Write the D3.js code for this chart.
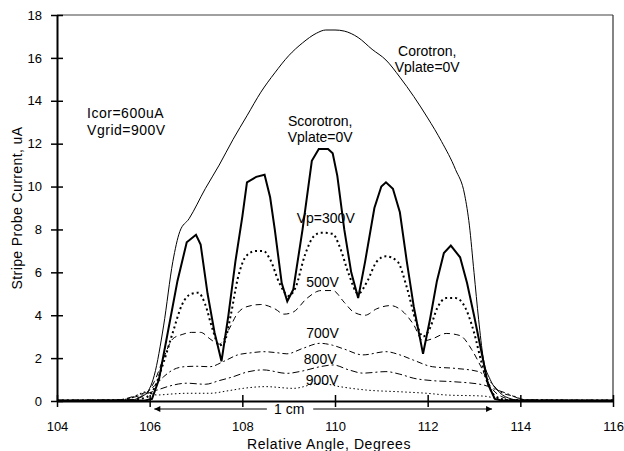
<!DOCTYPE html>
<html>
<head>
<meta charset="utf-8">
<script src="https://cdn.jsdelivr.net/npm/d3@7"></script>
<style>
  body { margin: 0; background: #fff; }
  svg text { font-family: "Liberation Sans", Arial, sans-serif; font-size: 14px; fill: #000; }
</style>
</head>
<body>
<svg id="chart"></svg>
<script>
// Probe current (uA) vs relative angle (degrees)
const corotron = [[104,0.03],[105,0.03],[105.6,0.05],[105.9,0.3],[106.1,1.2],[106.3,3.5],[106.5,6.5],[106.65,7.9],
  [106.85,8.5],[107.2,9.9],[107.5,11.0],[107.8,12.2],[108.1,13.3],[108.4,14.4],[108.7,15.3],[109,16.1],[109.3,16.7],
  [109.6,17.15],[109.8,17.3],[110,17.3],[110.2,17.25],[110.5,16.95],[110.8,16.4],[111.1,15.9],[111.4,15.1],[111.7,14.2],
  [112.0,13.2],[112.3,12.1],[112.6,10.8],[112.8,9.6],[112.9,8.2],[113.0,6.0],[113.1,3.8],[113.2,2.0],[113.35,1.0],
  [113.55,0.4],[113.8,0.1],[114,0.03],[116,0.03]];
const scorotron = [[104,0.02],[105.9,0.02],[106.05,0.1],[106.2,1.0],[106.4,3.3],[106.6,5.6],[106.8,7.4],[107.0,7.75],
  [107.1,7.3],[107.25,5.0],[107.4,3.2],[107.55,1.85],[107.7,4.0],[107.85,6.5],[108.0,8.6],[108.1,10.2],[108.3,10.45],
  [108.48,10.55],[108.6,9.5],[108.7,8.0],[108.85,5.5],[108.97,4.65],[109.1,5.2],[109.3,8.0],[109.5,11.2],[109.65,11.75],
  [109.85,11.75],[109.95,11.55],[110.05,10.5],[110.2,8.0],[110.35,6.0],[110.5,4.8],[110.65,6.5],[110.85,9.0],[111.0,10.0],
  [111.1,10.2],[111.25,9.9],[111.4,8.8],[111.55,6.5],[111.7,4.4],[111.9,2.2],[112.05,3.8],[112.2,5.6],[112.35,6.9],
  [112.5,7.25],[112.7,6.7],[112.85,5.5],[113.0,4.0],[113.15,2.4],[113.3,0.8],[113.45,0.1],[113.6,0.02],[116,0.02]];
const vp300 = [[104,0.02],[105.5,0.03],[105.9,0.15],[106.1,0.6],[106.3,1.8],[106.5,3.2],[106.7,4.5],[106.9,5.0],
  [107.05,5.05],[107.2,4.5],[107.35,3.4],[107.5,2.6],[107.6,2.7],[107.75,4.0],[107.9,5.7],[108.1,6.8],[108.3,7.0],
  [108.45,7.0],[108.6,6.6],[108.8,5.5],[109.0,4.9],[109.15,5.3],[109.35,6.8],[109.55,7.7],[109.7,7.85],[109.95,7.8],
  [110.1,7.2],[110.3,5.9],[110.5,5.0],[110.7,5.6],[110.9,6.5],[111.1,6.75],[111.35,6.5],[111.55,5.3],[111.75,3.7],
  [111.9,3.0],[112.05,3.4],[112.2,4.3],[112.4,4.8],[112.6,4.8],[112.8,4.4],[113.0,3.2],[113.15,1.9],[113.3,0.8],
  [113.45,0.25],[113.7,0.05],[116,0.02]];
const vp500 = [[104,0.02],[105.5,0.05],[105.9,0.3],[106.1,0.9],[106.3,2.0],[106.5,2.9],[106.7,3.1],[106.9,3.2],
  [107.1,3.2],[107.3,2.9],[107.5,2.65],[107.7,3.3],[107.9,4.1],[108.1,4.4],[108.4,4.5],[108.7,4.3],[108.9,4.05],
  [109.1,4.15],[109.4,4.8],[109.7,5.15],[109.95,5.15],[110.2,4.6],[110.4,4.15],[110.65,4.0],[110.9,4.3],[111.2,4.45],
  [111.45,4.2],[111.7,3.55],[111.9,2.8],[112.1,2.9],[112.4,3.15],[112.7,3.05],[112.95,2.4],[113.15,1.6],[113.35,0.7],
  [113.6,0.2],[113.9,0.05],[116,0.02]];
const vp700 = [[104,0.03],[105.3,0.05],[105.7,0.25],[105.95,0.45],[106.1,0.7],[106.3,1.13],[106.5,1.45],[106.75,1.6],
  [107.0,1.62],[107.3,1.6],[107.6,1.85],[107.9,2.15],[108.2,2.25],[108.45,2.3],[108.75,2.25],[108.96,2.2],[109.3,2.45],
  [109.68,2.69],[109.95,2.6],[110.2,2.42],[110.6,2.15],[111.1,2.3],[111.4,2.15],[111.7,1.9],[112.1,1.6],[112.6,1.52],
  [113.1,1.37],[113.35,0.9],[113.56,0.43],[113.9,0.2],[114.1,0.05],[116,0.03]];
const vp800 = [[104,0.03],[105.3,0.05],[105.7,0.2],[105.95,0.35],[106.15,0.5],[106.4,0.68],[106.8,0.83],[107.2,0.78],
  [107.5,0.95],[107.8,1.13],[108.1,1.35],[108.45,1.45],[108.96,1.29],[109.3,1.4],[109.68,1.6],[109.96,1.68],
  [110.3,1.45],[110.6,1.3],[111.1,1.37],[111.4,1.25],[111.7,1.06],[112.1,0.95],[112.55,0.9],[113.2,0.75],
  [113.45,0.55],[113.7,0.36],[114,0.1],[114.2,0.04],[116,0.03]];
const vp900 = [[104,0.02],[105.3,0.03],[105.6,0.15],[105.93,0.43],[106.15,0.28],[106.5,0.33],[106.8,0.36],
  [107.3,0.36],[107.7,0.48],[108.02,0.59],[108.5,0.67],[109.1,0.59],[109.68,0.83],[110.1,0.67],[110.68,0.51],
  [111.4,0.43],[111.98,0.36],[112.4,0.28],[113.2,0.23],[113.5,0.12],[113.8,0.05],[116,0.02]];

const xTicks = [104, 106, 108, 110, 112, 114, 116];
const yTicks = [0, 2, 4, 6, 8, 10, 12, 14, 16, 18];

// annotation text, anchored in data coordinates [x, y]
const notes = [
  {text: 'Corotron,', at: [111.99, 16.33]},
  {text: 'Vplate=0V', at: [111.99, 15.55]},
  {text: 'Scorotron,', at: [109.68, 13.06]},
  {text: 'Vplate=0V', at: [109.68, 12.31]},
  {text: 'Vp=300V', at: [109.8, 8.54]},
  {text: '500V', at: [109.73, 5.56]},
  {text: '700V', at: [109.73, 3.18]},
  {text: '800V', at: [109.68, 1.95]},
  {text: '900V', at: [109.72, 0.96]}
];
const settings = ['Icor=600uA', 'Vgrid=900V'];

class ProbeChart {
  constructor(_config) {
    this.config = {
      parentElement: _config.parentElement,
      containerWidth: _config.containerWidth || 624,
      containerHeight: _config.containerHeight || 451,
      margin: _config.margin || {top: 15, right: 11, bottom: 50, left: 57}
    };
    this.initVis();
  }

  initVis() {
    let vis = this;
    vis.width = vis.config.containerWidth - vis.config.margin.left - vis.config.margin.right;
    vis.height = vis.config.containerHeight - vis.config.margin.top - vis.config.margin.bottom;

    vis.xScale = d3.scaleLinear().domain([104, 116]).range([0, vis.width]);
    vis.yScale = d3.scaleLinear().domain([0, 18]).range([vis.height, 0]);

    vis.svg = d3.select(vis.config.parentElement)
        .attr('width', vis.config.containerWidth)
        .attr('height', vis.config.containerHeight);

    vis.chart = vis.svg.append('g')
        .attr('transform', `translate(${vis.config.margin.left},${vis.config.margin.top})`);

    vis.svg.append('defs').append('marker')
        .attr('id', 'arrow')
        .attr('viewBox', '0 0 10 10')
        .attr('refX', 10).attr('refY', 5)
        .attr('markerWidth', 10).attr('markerHeight', 6)
        .attr('markerUnits', 'userSpaceOnUse')
        .attr('orient', 'auto-start-reverse')
        .append('path').attr('d', 'M0,0L10,5L0,10z').attr('fill', '#000');

    this.renderVis();
  }

  renderVis() {
    let vis = this;
    const x = vis.xScale, y = vis.yScale;

    // frame: top gray, right dark
    vis.chart.append('line')
        .attr('x1', 0).attr('x2', vis.width).attr('y1', 0).attr('y2', 0)
        .attr('stroke', '#808080').attr('stroke-width', 1.5);
    vis.chart.append('line')
        .attr('x1', vis.width).attr('x2', vis.width).attr('y1', 0).attr('y2', vis.height)
        .attr('stroke', '#333').attr('stroke-width', 1.2);

    const lines = [
      {data: vp900, dash: '1.5,2.5', w: 1, curve: d3.curveMonotoneX},
      {data: vp800, dash: '7,3,2,3', w: 1, curve: d3.curveMonotoneX},
      {data: vp700, dash: '6,3,2,3', w: 1, curve: d3.curveMonotoneX},
      {data: vp500, dash: '6,4', w: 1, curve: d3.curveMonotoneX},
      {data: vp300, dash: '2,3', w: 2, curve: d3.curveMonotoneX},
      {data: corotron, dash: null, w: 1, curve: d3.curveMonotoneX},
      {data: scorotron, dash: null, w: 2, curve: d3.curveLinear}
    ];

    vis.chart.selectAll('.series')
        .data(lines)
        .join('path')
        .attr('class', 'series')
        .attr('fill', 'none')
        .attr('stroke', '#000')
        .attr('stroke-width', d => d.w)
        .attr('stroke-dasharray', d => d.dash)
        .attr('d', d => d3.line().curve(d.curve).x(p => x(p[0])).y(p => y(p[1]))(d.data));

    // axes
    const yAxis = d3.axisLeft(y).tickValues(yTicks).tickSize(0).tickPadding(15);
    const xAxis = d3.axisBottom(x).tickValues(xTicks).tickSize(0).tickPadding(21);

    const yAxisG = vis.chart.append('g').call(yAxis);
    const xAxisG = vis.chart.append('g').attr('transform', `translate(0,${vis.height})`).call(xAxis);
    [yAxisG, xAxisG].forEach(g => {
      g.select('.domain').attr('stroke', '#000').attr('stroke-width', 2);
      g.selectAll('text').style('font-family', '"Liberation Sans", Arial, sans-serif')
        .style('font-size', '13px').attr('fill', '#000');
    });
    yAxisG.selectAll('.tick').append('line')
        .attr('x1', -6).attr('x2', 6).attr('stroke', '#000').attr('stroke-width', 1.5);
    xAxisG.selectAll('.tick').append('line')
        .attr('y1', -6).attr('y2', 6).attr('stroke', '#000').attr('stroke-width', 1.5);

    // axis titles
    vis.chart.append('text')
        .attr('x', vis.width / 2 - 6).attr('y', vis.height + 48)
        .attr('text-anchor', 'middle')
        .style('letter-spacing', '0.6px')
        .text('Relative Angle, Degrees');
    vis.chart.append('text')
        .attr('transform', `translate(${-35},${vis.height / 2}) rotate(-90)`)
        .attr('text-anchor', 'middle')
        .style('letter-spacing', '0.4px')
        .text('Stripe Probe Current, uA');

    // notes
    vis.chart.selectAll('.note')
        .data(notes)
        .join('text')
        .attr('class', 'note')
        .attr('x', d => x(d.at[0])).attr('y', d => y(d.at[1]))
        .attr('text-anchor', 'middle')
        .attr('dy', '0.35em')
        .text(d => d.text);

    vis.chart.selectAll('.setting')
        .data(settings)
        .join('text')
        .attr('class', 'setting')
        .attr('x', x(104.65))
        .attr('y', (d, i) => y(13.43) + i * 17)
        .attr('dy', '0.35em')
        .style('letter-spacing', '0.5px')
        .text(d => d);

    // 1 cm span arrow
    const ay = vis.height + 8;
    vis.chart.append('line')
        .attr('x1', x(108.53)).attr('x2', x(106.1)).attr('y1', ay).attr('y2', ay)
        .attr('stroke', '#000').attr('stroke-width', 1).attr('marker-end', 'url(#arrow)');
    vis.chart.append('line')
        .attr('x1', x(109.53)).attr('x2', x(113.39)).attr('y1', ay).attr('y2', ay)
        .attr('stroke', '#000').attr('stroke-width', 1).attr('marker-end', 'url(#arrow)');
    vis.chart.append('text')
        .attr('x', x(109.01)).attr('y', ay).attr('dy', '0.35em')
        .attr('text-anchor', 'middle')
        .text('1 cm');
  }
}

new ProbeChart({parentElement: '#chart'});
</script>
</body>
</html>
